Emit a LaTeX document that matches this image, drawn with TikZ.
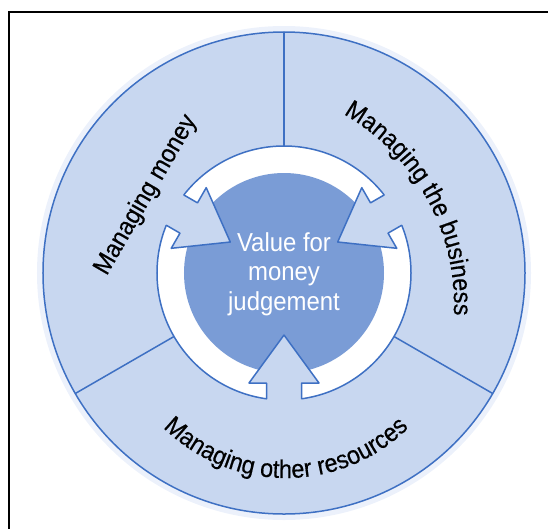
\documentclass[tikz,border=0pt]{standalone}
\usepackage{fontspec}
\usepackage{tikz}
\usetikzlibrary{decorations.text}
\newfontfamily\labfont{Liberation Sans}[FakeStretch=0.92, FakeBold=0.4]
\newfontfamily\corefont{Liberation Sans}[FakeStretch=0.92]
\definecolor{segblue}{RGB}{200,215,240}
\definecolor{rimblue}{RGB}{62,112,195}
\definecolor{coreblue}{RGB}{122,156,214}
\definecolor{haloblue}{RGB}{236,241,251}
% arrow from a segment into the core, #1 = turn from the bottom one
\newcommand{\inarrow}[1]{\begin{scope}[rotate=#1]
  \fill[segblue] (-17.5,-131) -- (-17.5,-110) -- (-35,-110) -- (0,-62) -- (35,-110) -- (17.5,-110) -- (17.5,-131) -- cycle;
  \draw[rim] (-17.5,-126) -- (-17.5,-110) -- (-35,-110) -- (0,-62) -- (35,-110) -- (17.5,-110) -- (17.5,-126);
\end{scope}}
\newcommand{\divider}[1]{\draw[rim] (#1:127pt) -- (#1:241pt);}
\begin{document}
\begin{tikzpicture}[x=1pt, y=1pt,
    rim/.style={draw=rimblue, line width=1.5pt, line join=round},
    labeltext/.style={font=\labfont\fontsize{25.5pt}{27pt}\selectfont, text=black},
    coretext/.style={font=\corefont\fontsize{26pt}{29.5pt}\selectfont, text=white, align=center}]
    \useasboundingbox (-284,-255) rectangle (264,273);
    % outer wheel
    \fill[haloblue] (0,0) circle (247pt);
    \filldraw[rim, fill=segblue] (0,0) circle (241pt);
    \divider{90}
    \divider{210}
    \divider{330}
    % white ring and core
    \filldraw[rim, fill=white] (0,0) circle (127pt);
    \fill[coreblue] (0,0) circle (100pt);
    % arrows
    \inarrow{0}
    \inarrow{120}
    \inarrow{240}
    % labels
    \node[coretext] (vfm) at (0,-1) {Value for\\money\\judgement};
    \node[labeltext, rotate=60] (money) at (-138,78) {Managing money};
    \path[decorate, decoration={text along path, text align=center,
        text={|\labfont\fontsize{25.5pt}{27pt}\selectfont|Managing the business}}]
        (-50,-32) ++(88.75:220pt) arc[start angle=88.75, end angle=-31.25, radius=220pt];
    \path[decorate, decoration={text along path, text align=center,
        text={|\labfont\fontsize{25.5pt}{27pt}\selectfont|Managing other resources}}]
        (2,-30) ++(180:175pt) arc[start angle=180, end angle=360, radius=175pt];
    % frame
    \draw[line width=2.5pt] (-275,-260) -- (-275,261) -- (270,261);
\end{tikzpicture}
\end{document}
